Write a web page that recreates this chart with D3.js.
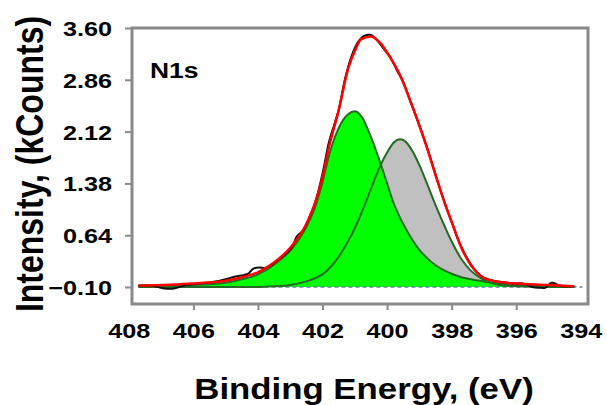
<!DOCTYPE html>
<html>
<head>
<meta charset="utf-8">
<script src="https://cdn.jsdelivr.net/npm/d3@7"></script>
<style>
  html, body { margin: 0; padding: 0; background: #fff; }
  svg text { font-family: "Liberation Sans", Arial, sans-serif; font-weight: bold; fill: #000; }
</style>
</head>
<body>
<div id="vis"></div>
<script>
// fit curves, sampled on a common energy grid (eV)
const energy = [407.7, 406, 405, 404.5, 404, 403.5, 403, 402.5, 402.2, 402, 401.8, 401.5, 401.2, 401,
  400.8, 400.5, 400.2, 400, 399.8, 399.6, 399.5, 399.2, 399, 398.8, 398.5, 398.2, 398, 397.7, 397.4,
  397, 396.5, 396, 395, 394.2];
const envelope = [-0.08, -0.05, -0.01, 0.04, 0.11, 0.25, 0.46, 0.80, 1.14, 1.47, 1.90, 2.42, 3.03, 3.27,
  3.44, 3.48, 3.38, 3.25, 3.10, 2.93, 2.82, 2.46, 2.21, 1.94, 1.50, 1.08, 0.83, 0.46, 0.21,
  0.03, -0.03, -0.05, -0.07, -0.09];
const peakA = [-0.09, -0.07, -0.04, 0.01, 0.08, 0.22, 0.42, 0.76, 1.08, 1.40, 1.78, 2.17, 2.37, 2.41,
  2.34, 2.04, 1.66, 1.38, 1.10, 0.89, 0.80, 0.56, 0.43, 0.33, 0.21, 0.13, 0.09, 0.04, 0.01,
  -0.02, -0.05, -0.07, -0.09, -0.10];
const peakB = [-0.10, -0.10, -0.10, -0.10, -0.10, -0.09, -0.07, -0.02, 0.03, 0.08, 0.16, 0.33, 0.56, 0.74,
  0.95, 1.30, 1.64, 1.82, 1.96, 2.01, 2.00, 1.83, 1.64, 1.42, 1.07, 0.75, 0.55, 0.30, 0.13,
  0.00, -0.07, -0.09, -0.10, -0.10];

// measured spectrum
const rawEnergy = [407.7, 407.3, 406.9, 406.6, 406.2, 405.8, 405.4, 405.0, 404.7, 404.45, 404.3, 404.15,
  403.95, 403.78, 403.6, 403.4, 403.2, 402.95, 402.8, 402.6, 402.4, 402.2, 402.0, 401.8, 401.65,
  401.5, 401.3, 401.1, 400.9, 400.7, 400.5, 400.3, 400.1, 399.9, 399.7, 399.5, 399.3, 399.1,
  398.85, 398.6, 398.4, 398.2, 398.0, 397.8, 397.6, 397.4, 397.2, 397.0, 396.7, 396.4, 396.1,
  395.8, 395.5, 395.3, 395.1, 394.9, 394.7, 394.5, 394.3];
const rawCounts = [-0.08, -0.08, -0.12, -0.12, -0.07, -0.05, -0.03, 0.01, 0.05, 0.07, 0.09, 0.16,
  0.18, 0.17, 0.21, 0.28, 0.35, 0.46, 0.62, 0.71, 0.90, 1.15, 1.52, 1.97, 2.20,
  2.43, 2.88, 3.20, 3.40, 3.49, 3.50, 3.42, 3.30, 3.18, 3.00, 2.83, 2.58, 2.33,
  2.01, 1.66, 1.36, 1.08, 0.83, 0.58, 0.38, 0.22, 0.10, 0.03, -0.01, -0.03, -0.05,
  -0.05, -0.10, -0.11, -0.11, -0.04, -0.07, -0.09, -0.09];

const xTicks = [408, 406, 404, 402, 400, 398, 396, 394];
const yTicks = [-0.10, 0.64, 1.38, 2.12, 2.86, 3.60];
const baseline = -0.10;

const W = 607, H = 405;
const frame = { left: 132, top: 28, right: 588, bottom: 304 };
const stretch = 1.2; // glyphs in the picture are wider than normal

const svg = d3.select("#vis").append("svg").attr("width", W).attr("height", H);

const x = d3.scaleLinear().domain([408, 394]).range([128.8, 580.8]);
const y = d3.scaleLinear().domain([-0.10, 3.60]).range([287, 28]);

const fit = energy.map((e, i) => ({ e, env: envelope[i], a: peakA[i], b: peakB[i] }));
const raw = rawEnergy.map((e, i) => ({ e, v: rawCounts[i] }));

const area = key => d3.area().x(d => x(d.e)).y0(y(baseline)).y1(d => y(d[key])).curve(d3.curveMonotoneX);
const line = key => d3.line().x(d => x(d.e)).y(d => y(d[key])).curve(d3.curveMonotoneX);

svg.append("path").datum(fit).attr("d", area("b")).attr("fill", "#c0c0c0");
svg.append("path").datum(fit).attr("d", area("a")).attr("fill", "#00ff00");

svg.append("line")
  .attr("x1", x(407.7)).attr("x2", x(393.95))
  .attr("y1", y(baseline)).attr("y2", y(baseline))
  .attr("stroke", "#6383a3").attr("stroke-width", 1.5).attr("stroke-dasharray", "4,3");

svg.append("path").datum(fit).attr("d", line("b"))
  .attr("fill", "none").attr("stroke", "#236b23").attr("stroke-width", 2);
svg.append("path").datum(fit).attr("d", line("a"))
  .attr("fill", "none").attr("stroke", "#236b23").attr("stroke-width", 2);

svg.append("path").datum(raw)
  .attr("d", d3.line().x(d => x(d.e)).y(d => y(d.v)).curve(d3.curveCatmullRom))
  .attr("fill", "none").attr("stroke", "#111").attr("stroke-width", 2);

svg.append("path").datum(fit).attr("d", line("env"))
  .attr("fill", "none").attr("stroke", "#ff0000").attr("stroke-width", 2.5);

// frame
svg.append("rect")
  .attr("x", frame.left).attr("y", frame.top)
  .attr("width", frame.right - frame.left).attr("height", frame.bottom - frame.top)
  .attr("fill", "none").attr("stroke", "#8a8a8a").attr("stroke-width", 3);

// y axis
const yAxis = svg.append("g").attr("transform", `translate(${frame.left},0)`)
  .call(d3.axisLeft(y).tickValues(yTicks).tickFormat(d3.format(".2f")).tickSize(7).tickSizeOuter(0));
yAxis.select(".domain").remove();
yAxis.selectAll(".tick line").attr("stroke", "#8a8a8a").attr("stroke-width", 2);
yAxis.selectAll(".tick text")
  .attr("font-size", 21).attr("x", -20 / stretch).attr("dy", "0.36em")
  .attr("transform", `scale(${stretch},1)`);

// x axis
const xAxis = svg.append("g").attr("transform", `translate(0,${frame.bottom})`)
  .call(d3.axisBottom(x).tickValues(xTicks).tickSize(6).tickSizeOuter(0));
xAxis.select(".domain").remove();
xAxis.selectAll(".tick line").attr("stroke", "#8a8a8a").attr("stroke-width", 2)
  .filter(d => d === 408 || d === 394).remove();
xAxis.selectAll(".tick text")
  .attr("font-size", 21).attr("y", 34).attr("dy", 0)
  .attr("transform", `scale(${stretch},1)`);

// titles
svg.append("text").attr("x", 150 / stretch).attr("y", 78).attr("font-size", 22)
  .attr("transform", `scale(${stretch},1)`).text("N1s");

svg.append("text").attr("transform", `translate(364,399) scale(${stretch},1)`)
  .attr("text-anchor", "middle").attr("font-size", 29).text("Binding Energy, (eV)");

svg.append("text").attr("transform", `translate(43,164) scale(${stretch},1) rotate(-90)`)
  .attr("text-anchor", "middle").attr("font-size", 32).text("Intensity, (kCounts)");
</script>
</body>
</html>
